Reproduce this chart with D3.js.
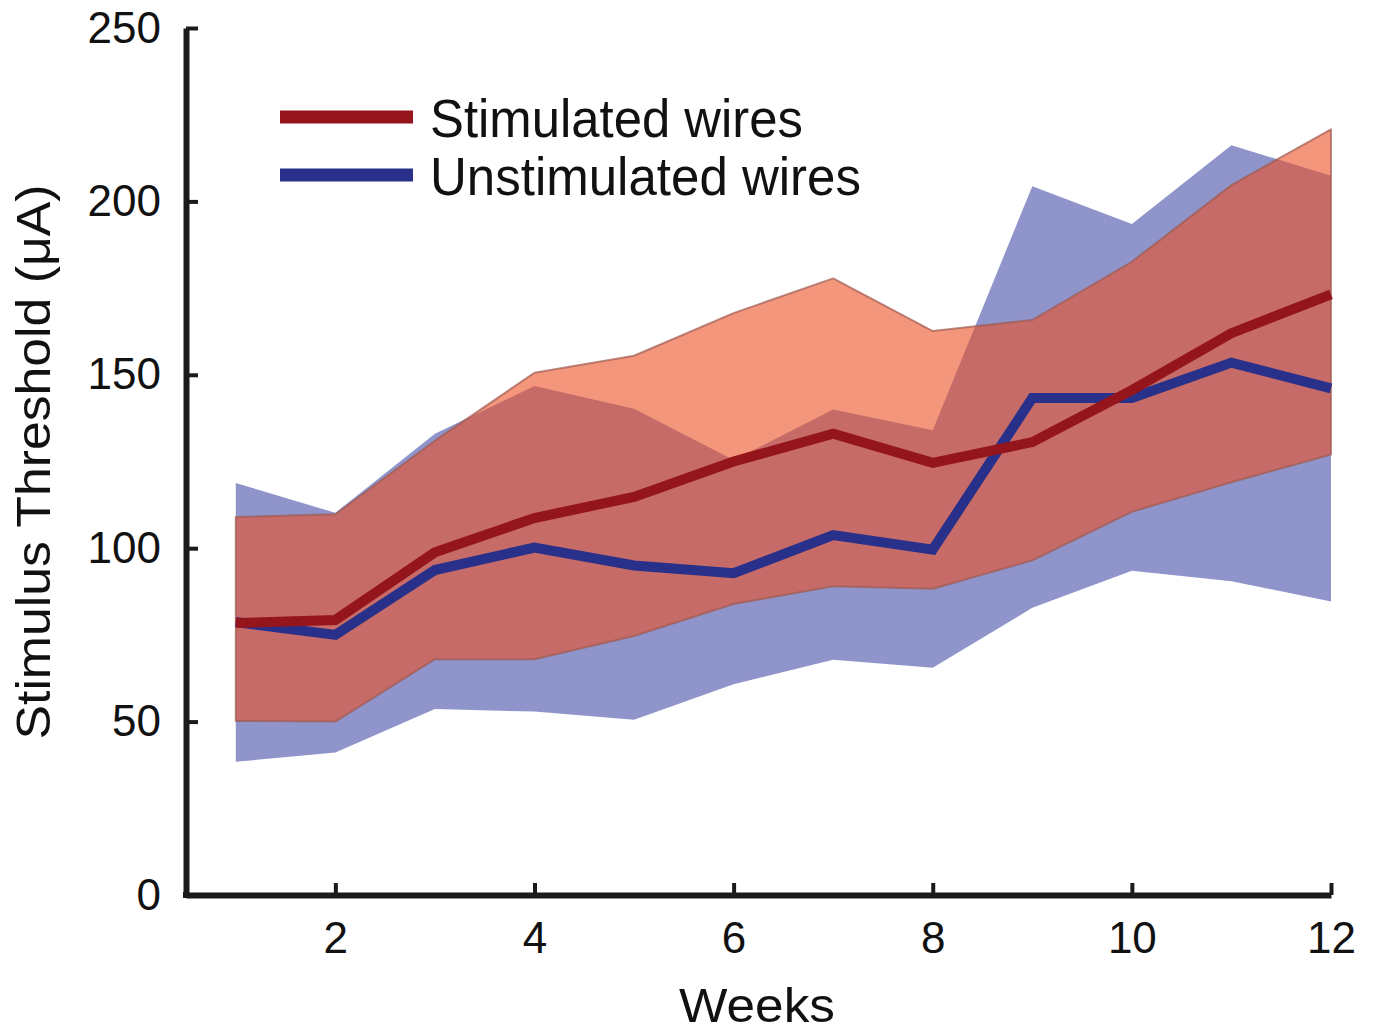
<!DOCTYPE html>
<html>
<head>
<meta charset="utf-8">
<script src="https://cdn.jsdelivr.net/npm/d3@7"></script>
<style>
  html, body { margin: 0; padding: 0; background: #fff; }
  svg { display: block; }
  text { font-family: "Liberation Sans", Arial, sans-serif; fill: #111; }
</style>
</head>
<body>
<svg id="chart" width="1376" height="1034"></svg>
<script>
const weeks = [1, 2, 3, 4, 5, 6, 7, 8, 9, 10, 11, 12];
const stimMean   = [78.4, 79.3, 98.8, 108.7, 114.8, 125, 133, 124.6, 130.6, 145.6, 162, 173.2];
const stimUpper  = [109, 109.8, 131, 150.6, 155.5, 167.8, 177.8, 162.6, 165.8, 182.6, 204.7, 220.8];
const stimLower  = [50.2, 50, 68, 68, 74.7, 83.9, 89, 88.3, 96.5, 110.5, 119, 127];
const unstimMean = [78.7, 75, 93.7, 100.2, 95, 92.8, 103.8, 99.6, 143.3, 143.3, 153.5, 146.1];
const unstimUpper = [118.8, 110.2, 133, 146.8, 140.2, 125.4, 140, 134, 204.4, 193.5, 216.2, 207.4];
const unstimLower = [38.4, 41.1, 53.6, 52.9, 50.5, 60.8, 67.8, 65.5, 82.8, 93.5, 90.5, 84.6];
const xTicks = [2, 4, 6, 8, 10, 12];
const yTicks = [0, 50, 100, 150, 200, 250];
const seriesNames = ["Stimulated wires", "Unstimulated wires"];

const svg = d3.select("#chart");
const x = d3.scaleLinear().domain([0.5, 12]).range([186, 1331]);
const y = d3.scaleLinear().domain([0, 250]).range([895, 28]);

const area = (lo, hi) => d3.area()
  .x((d, i) => x(weeks[i]))
  .y0((d, i) => y(lo[i]))
  .y1((d, i) => y(hi[i]))(weeks);
const line = vals => d3.line()
  .x((d, i) => x(weeks[i]))
  .y((d, i) => y(vals[i]))(weeks);

// bands
svg.append("path").attr("d", area(unstimLower, unstimUpper))
  .attr("fill", "rgb(143,149,203)");
svg.append("path").attr("d", area(stimLower, stimUpper))
  .attr("fill", "rgb(235,80,36)").attr("fill-opacity", 0.6)
  .attr("stroke", "rgb(160,90,80)").attr("stroke-opacity", 0.7).attr("stroke-width", 2)
  .attr("stroke-linejoin", "round");

// mean lines
svg.append("path").attr("d", line(unstimMean))
  .attr("fill", "none").attr("stroke", "#29308a").attr("stroke-width", 10)
  .attr("stroke-linejoin", "miter");
svg.append("path").attr("d", line(stimMean))
  .attr("fill", "none").attr("stroke", "#94161c").attr("stroke-width", 10)
  .attr("stroke-linejoin", "miter");

// axes
const fs = 44;
const xAxis = svg.append("g").attr("transform", "translate(0,895)")
  .call(d3.axisBottom(x).tickValues(xTicks).tickSize(-12).tickSizeOuter(0).tickPadding(27));
const yAxis = svg.append("g").attr("transform", "translate(186,0)")
  .call(d3.axisLeft(y).tickValues(yTicks).tickSize(-12).tickSizeOuter(0).tickPadding(25));
[xAxis, yAxis].forEach(g => {
  g.select(".domain").attr("stroke", "#1a1a1a").attr("stroke-width", 6);
  g.selectAll(".tick line").attr("stroke", "#1a1a1a").attr("stroke-width", 4);
  g.selectAll(".tick text").attr("font-size", fs).attr("fill", "#111")
    .style("font-family", "'Liberation Sans', Arial, sans-serif");
});
// corner join
svg.append("path").attr("d", d3.line()([[x(0.5) - 3, y(0)], [x(0.5) + 3, y(0)]]))
  .attr("stroke", "#1a1a1a").attr("stroke-width", 6);

// axis titles
svg.append("text").attr("x", 757).attr("y", 1022).attr("text-anchor", "middle")
  .attr("font-size", 48).attr("textLength", 156).attr("lengthAdjust", "spacingAndGlyphs")
  .text("Weeks");
svg.append("text").attr("transform", "translate(50,462) rotate(-90)").attr("text-anchor", "middle")
  .attr("font-size", 49).attr("textLength", 555).attr("lengthAdjust", "spacingAndGlyphs")
  .text("Stimulus Threshold (μA)");

// legend
const legColors = ["#94161c", "#29308a"];
const legY = [117, 175];
seriesNames.forEach((name, i) => {
  svg.append("line").attr("x1", 280).attr("x2", 413).attr("y1", legY[i]).attr("y2", legY[i])
    .attr("stroke", legColors[i]).attr("stroke-width", 13);
  svg.append("text").attr("x", 430).attr("y", legY[i] + 20)
    .attr("font-size", 53).attr("textLength", i === 0 ? 373 : 431).attr("lengthAdjust", "spacingAndGlyphs")
    .text(name);
});
</script>
</body>
</html>
